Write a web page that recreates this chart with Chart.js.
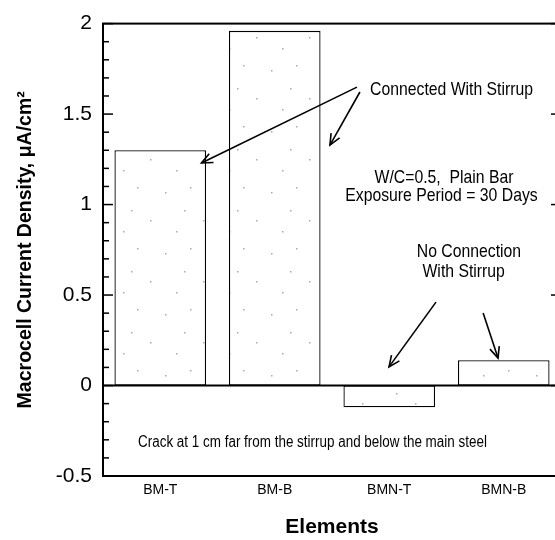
<!DOCTYPE html>
<html><head><meta charset="utf-8">
<script src="https://cdn.jsdelivr.net/npm/chart.js@4/dist/chart.umd.min.js"></script>
<style>
html,body{margin:0;padding:0;background:#fff;overflow:hidden;width:555px;height:540px}
#wrap{position:relative;width:562px;height:540px}
</style></head>
<body><div id="wrap"><canvas id="c" width="562" height="540"></canvas></div>
<script>
// ---- data ----
const categories = ['BM-T', 'BM-B', 'BMN-T', 'BMN-B'];
const currentDensity = [1.30, 1.96, -0.12, 0.14];
const yTickValues = [-0.5, 0, 0.5, 1, 1.5, 2];
const yTickLabels = ['-0.5', '0', '0.5', '1', '1.5', '2'];
const yAxisTitle = 'Macrocell Current Density, \u03BCA/cm\u00B2';
const xAxisTitle = 'Elements';

// annotation texts in data coordinates (x = category index, y = value)
const noteTexts = [
  {text: 'Connected With Stirrup', x: 2.544, y: 1.632, align: 'center'},
  {text: 'W/C=0.5,  Plain Bar', x: 2.478, y: 1.150, align: 'center'},
  {text: 'Exposure Period = 30 Days', x: 2.456, y: 1.047, align: 'center'},
  {text: 'No Connection', x: 2.696, y: 0.738, align: 'center'},
  {text: 'With Stirrup', x: 2.65, y: 0.629, align: 'center'},
  {text: 'Crack at 1 cm far from the stirrup and below the main steel', x: -0.194, y: -0.315, align: 'left', small: true}
];
// arrows: from (x1,y1) to tip (x2,y2) in data coordinates
const noteArrows = [
  {x1: 1.718, y1: 1.649, x2: 0.36, y2: 1.23},
  {x1: 1.744, y1: 1.622, x2: 1.482, y2: 1.329},
  {x1: 2.408, y1: 0.461, x2: 1.998, y2: 0.103},
  {x1: 2.82, y1: 0.401, x2: 2.95, y2: 0.152}
];

// sparse stipple texture for bars
function stipple(ctx){
  const c = document.createElement('canvas');
  c.width = 53; c.height = 61;
  const g = c.getContext('2d');
  g.fillStyle = '#fff'; g.fillRect(0,0,53,61);
  g.fillStyle = '#aaa';
  [[6,9],[31,4],[44,37],[17,48],[25,27]].forEach(p=>g.fillRect(p[0],p[1],1.5,1.5));
  return ctx.createPattern(c,'repeat');
}

const overlay = {
  id: 'overlay',
  afterDatasetsDraw(chart){
    const {ctx, chartArea: a, scales: {x, y}} = chart;
    ctx.save();
    ctx.strokeStyle = '#000';
    ctx.fillStyle = '#000';
    const L = (x1,y1,x2,y2)=>{ctx.beginPath();ctx.moveTo(x1,y1);ctx.lineTo(x2,y2);ctx.stroke();};
    // zero line
    ctx.lineWidth = 2;
    const y0 = y.getPixelForValue(0);
    L(a.left, y0, a.right, y0);
    // frame
    ctx.strokeRect(a.left, a.top, a.right - a.left, a.bottom - a.top);
    // inward ticks, left and right
    ctx.lineWidth = 1.5;
    for (let i = 0; i < yTickValues.length; i++) {
      const v = yTickValues[i];
      const py = y.getPixelForValue(v);
      L(a.left, py, a.left + 10, py);
      L(a.right, py, a.right - 10, py);
      if (i < yTickValues.length - 1) {
        const step = (yTickValues[i+1] - v) / 5;
        for (let k = 1; k < 5; k++) {
          const pm = y.getPixelForValue(v + k*step);
          L(a.left, pm, a.left + 6, pm);
          L(a.right, pm, a.right - 6, pm);
        }
      }
    }
    // arrows
    ctx.lineWidth = 1.6;
    noteArrows.forEach(ar=>{
      const x1 = x.getPixelForValue(ar.x1), y1 = y.getPixelForValue(ar.y1);
      const x2 = x.getPixelForValue(ar.x2), y2 = y.getPixelForValue(ar.y2);
      L(x1,y1,x2,y2);
      const ang = Math.atan2(y2-y1, x2-x1), hl = 12, sp = 0.42;
      ctx.beginPath();
      ctx.moveTo(x2 - hl*Math.cos(ang - sp), y2 - hl*Math.sin(ang - sp));
      ctx.lineTo(x2, y2);
      ctx.lineTo(x2 - hl*Math.cos(ang + sp), y2 - hl*Math.sin(ang + sp));
      ctx.stroke();
    });
    // texts
    ctx.textBaseline = 'middle';
    noteTexts.forEach(t=>{
      const px = x.getPixelForValue(t.x), py = y.getPixelForValue(t.y);
      ctx.save();
      ctx.font = t.small ? '16px "Liberation Sans", Arial, sans-serif' : '19px "Liberation Sans", Arial, sans-serif';
      ctx.textAlign = t.align;
      ctx.translate(px, py);
      ctx.scale(t.small ? 0.84 : 0.83, 1);
      ctx.fillText(t.text, 0, 0);
      ctx.restore();
    });
    ctx.restore();
  }
};

const cv = document.getElementById('c');
const ctx = cv.getContext('2d');
new Chart(ctx, {
  type: 'bar',
  data: {
    labels: categories,
    datasets: [{
      data: currentDensity,
      backgroundColor: stipple(ctx),
      borderColor: '#000',
      borderWidth: 1.3,
      borderSkipped: false,
      categoryPercentage: 1.0,
      barPercentage: 0.8
    }]
  },
  options: {
    responsive: false,
    animation: false,
    events: [],
    layout: {padding: {left: 0, right: 1, top: 15, bottom: 0}},
    plugins: {legend: {display: false}, tooltip: {enabled: false}},
    scales: {
      x: {
        grid: {display: false, drawTicks: false},
        border: {display: false},
        ticks: {color: '#000', padding: 6, font: {family: '"Liberation Sans", Arial, sans-serif', size: 14}},
        title: {display: true, text: xAxisTitle, color: '#000', padding: {top: 0, bottom: 0},
                font: {family: '"Liberation Sans", Arial, sans-serif', size: 21, weight: 'bold'}},
        afterFit(s){ s.height = 64; }
      },
      y: {
        min: -0.5, max: 2,
        grid: {display: false, drawTicks: false},
        border: {display: false},
        afterBuildTicks(s){ s.ticks = yTickValues.map(v=>({value: v})); },
        ticks: {color: '#000', padding: 11,
                callback: (v)=>yTickLabels[yTickValues.indexOf(v)],
                font: {family: '"Liberation Sans", Arial, sans-serif', size: 21}},
        title: {display: true, text: yAxisTitle, color: '#000', padding: {top: 14, bottom: 0},
                font: {family: '"Liberation Sans", Arial, sans-serif', size: 19.5, weight: 'bold'}},
        afterFit(s){ s.width = 103; }
      }
    }
  },
  plugins: [overlay]
});
</script>
</body></html>
